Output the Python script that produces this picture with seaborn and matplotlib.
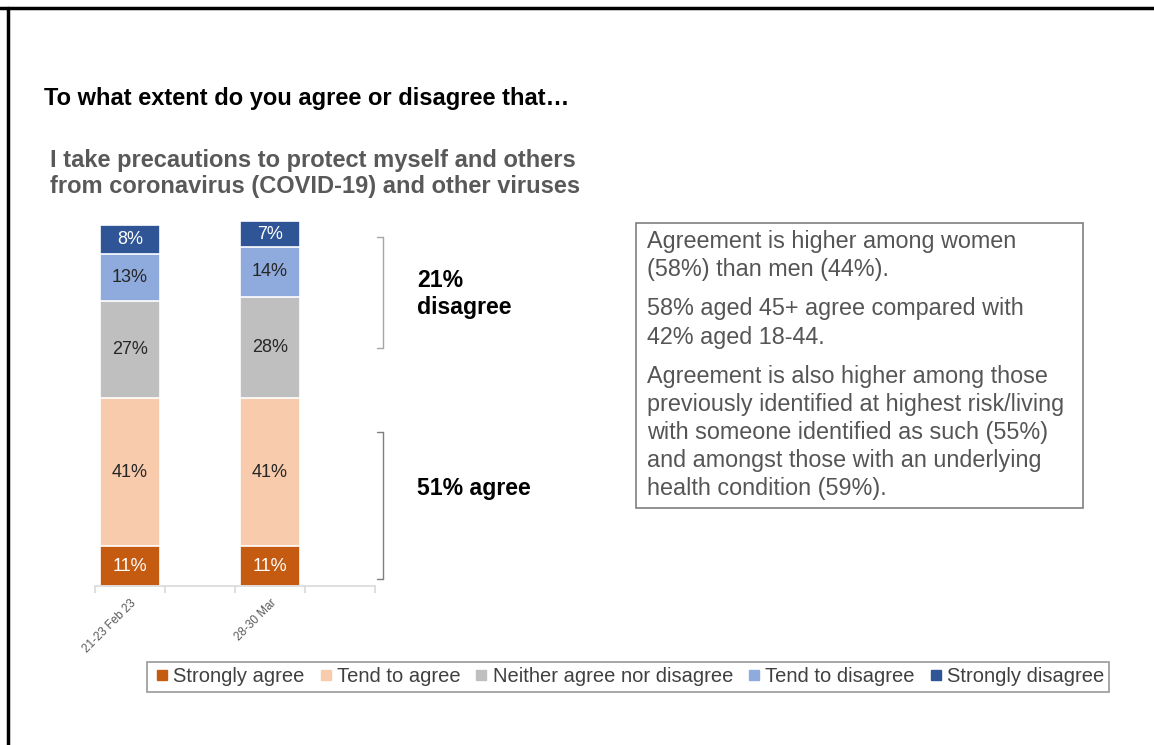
import matplotlib
matplotlib.use("Agg")
import matplotlib.pyplot as plt
import seaborn as sns
import numpy as np
from matplotlib.lines import Line2D
from matplotlib.patches import Rectangle

# Survey waves and response shares (%)
waves = ["21-23 Feb 23", "28-30 Mar"]
responses = ["Strongly agree", "Tend to agree", "Neither agree nor disagree",
             "Tend to disagree", "Strongly disagree"]
strongly_agree = [11, 11]
tend_agree = [41, 41]
neither = [27, 28]
tend_disagree = [13, 14]
strongly_disagree = [8, 7]

agree_total = "51% agree"
disagree_total = "21%\ndisagree"

title = "To what extent do you agree or disagree that\u2026"
statement = ["I take precautions to protect myself and others",
             "from coronavirus (COVID-19) and other viruses"]
notes = [
    "Agreement is higher among women",
    "(58%) than men (44%).",
    "58% aged 45+ agree compared with",
    "42% aged 18-44.",
    "Agreement is also higher among those",
    "previously identified at highest risk/living",
    "with someone identified as such (55%)",
    "and amongst those with an underlying",
    "health condition (59%).",
]

colors = ["#C55A11", "#F8CBAD", "#BFBFBF", "#8FAADC", "#2F5597"]
label_colors = ["white", "#262626", "#262626", "#262626", "white"]

sns.set_style("white")
plt.rcParams["font.family"] = ["Liberation Sans", "DejaVu Sans"]

W, H = 1154, 745
fig = plt.figure(figsize=(W / 100, H / 100), dpi=100)


def fx(x):
    return x / W


def fy(y):
    return 1 - y / H


ax = fig.add_axes([fx(95), fy(586), 280 / W, 361 / H])

layers = [strongly_agree, tend_agree, neither, tend_disagree, strongly_disagree]
cum = np.cumsum(np.array(layers), axis=0)

# stacked bars: draw cumulative totals from the top layer down
for i in range(len(layers) - 1, -1, -1):
    sns.barplot(x=waves, y=list(cum[i]), color=colors[i], saturation=1,
                width=0.43, errorbar=None, edgecolor="white", linewidth=1.2,
                ax=ax)

for p in ax.patches:
    p.set_clip_on(False)

for i, vals in enumerate(layers):
    for j, v in enumerate(vals):
        base = cum[i][j] - v
        ax.text(j, base + v / 2, f"{v}%", ha="center", va="center",
                fontsize=13, color=label_colors[i])

ax.set_ylim(0, 100)
ax.set_xlim(-0.25, 1.75)
ax.set_yticks([])
ax.set_ylabel("")
for s in ["left", "top", "right"]:
    ax.spines[s].set_visible(False)
ax.spines["bottom"].set_color("#D9D9D9")
ax.spines["bottom"].set_linewidth(1.2)
ax.set_xticks([0, 1])
ax.set_xticklabels(waves, rotation=45, ha="right", rotation_mode="anchor",
                   fontsize=8.5, color="#595959")
ax.set_xticks([-0.25, 0.25, 0.75, 1.25, 1.75], minor=True)
ax.tick_params(axis="x", which="major", length=0, pad=8)
ax.tick_params(axis="x", which="minor", length=5, color="#D9D9D9", width=1.2)
ax.tick_params(axis="x", which="both", bottom=True)

# headings
fig.text(fx(44), fy(98), title, fontsize=17, fontweight="bold", color="black",
         ha="left", va="center")
for k, line in enumerate(statement):
    fig.text(fx(50), fy(160 + 27 * k), line, fontsize=17, fontweight="bold",
             color="#595959", ha="left", va="center")

# net brackets
def bracket(y0, y1, color):
    fig.add_artist(Line2D([fx(383), fx(383)], [fy(y0), fy(y1)],
                          transform=fig.transFigure, color=color, lw=1))
    for yy in (y0, y1):
        fig.add_artist(Line2D([fx(377), fx(383)], [fy(yy), fy(yy)],
                              transform=fig.transFigure, color=color, lw=1))


bracket(237, 348, "#A6A6A6")
bracket(432, 579, "#7F7F7F")

fig.text(fx(417), fy(294), disagree_total, fontsize=16.6, fontweight="bold",
         color="black", ha="left", va="center", linespacing=1.25)
fig.text(fx(417), fy(489), agree_total, fontsize=16.6, fontweight="bold",
         color="black", ha="left", va="center")

# notes box
fig.add_artist(Rectangle((fx(636), fy(508)), (1083 - 636) / W, (508 - 223) / H,
                         transform=fig.transFigure, fill=False,
                         edgecolor="#7F7F7F", lw=1.2))
note_y = [242, 270, 309, 337, 377, 405, 433, 461, 489]
for t, yy in zip(notes, note_y):
    fig.text(fx(647), fy(yy), t, fontsize=16.8, color="#555555",
             ha="left", va="center")

# legend
handles = [Line2D([], [], marker="s", linestyle="", color=c, markersize=7)
           for c in colors]
leg = fig.legend(handles, responses, loc="center",
                 bbox_to_anchor=(fx(628), fy(677)), ncol=5, frameon=True,
                 fancybox=False, edgecolor="#7F7F7F", fontsize=14.5,
                 handletextpad=0.05, columnspacing=0.55, borderpad=0.25,
                 handlelength=1.0, labelcolor="#404040")
leg.get_frame().set_linewidth(1.2)

# page frame lines
fig.add_artist(Line2D([0, 1], [fy(8), fy(8)], transform=fig.transFigure,
                      color="black", lw=2.5))
fig.add_artist(Line2D([fx(8), fx(8)], [0, fy(8)], transform=fig.transFigure,
                      color="black", lw=2.5))

fig.savefig("out.png", dpi=100)
